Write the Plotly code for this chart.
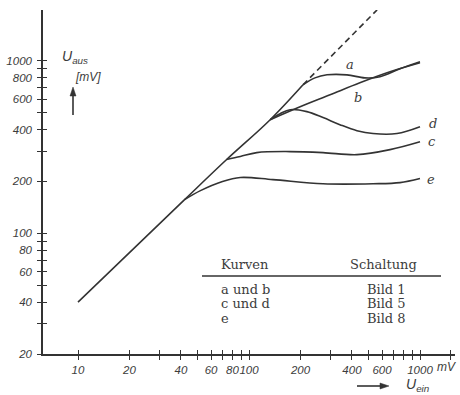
import math
import plotly.graph_objects as go

# ---------------- data ----------------
main_in = [10, 42, 74, 133, 207]
main_out = [40, 157, 268, 456, 727]
ideal_in = [207, 561]
ideal_out = [727, 1974]
a_in = [207, 243, 286, 374, 476, 584, 764, 1000]
a_out = [727, 797, 830, 830, 797, 809, 899, 987]
b_in = [133, 199, 298, 445, 668, 1000]
b_out = [456, 542, 636, 746, 864, 974]
c_in = [74, 89, 111, 174, 271, 428, 668, 1000]
c_out = [268, 279, 294, 298, 294, 286, 306, 340]
d_in = [133, 152, 174, 218, 271, 340, 428, 531, 733, 1000]
d_out = [456, 494, 521, 508, 469, 427, 394, 379, 379, 415]
e_in = [42, 52, 70, 89, 138, 271, 531, 764, 1000]
e_out = [157, 177, 200, 211, 205, 194, 194, 197, 208]

x_major = [10, 20, 40, 60, 80, 100, 200, 400, 600, 1000]
x_minor = [30, 50, 70, 90, 300, 500, 700, 800, 900, 1500]
y_major = [20, 40, 60, 80, 100, 200, 400, 600, 800, 1000]
y_minor = [30, 50, 70, 90, 300, 500, 700, 900]

curve_labels = ["a", "b", "c", "d", "e"]
table_head = ["Kurven", "Schaltung"]
table_rows = [["a und b", "Bild 1"], ["c und d", "Bild 5"], ["e", "Bild 8"]]

# ---------------- styling ----------------
W, H = 460, 395
L, R, T, B = 43, 5, 10, 41
XR = [0.7953, 3.2047]
YR = [math.log10(20), 3.2948]
LINE = "#333333"
TXT = "#3c3c3c"


def px(x):
    return (x - L) / (W - L - R)


def py(y):
    return (H - B - y) / (H - T - B)


fig = go.Figure()


def curve(xs, ys, dash="solid"):
    fig.add_trace(go.Scatter(x=xs, y=ys, mode="lines",
                             line=dict(color=LINE, width=1.6, dash=dash,
                                       shape="spline", smoothing=1.0),
                             hoverinfo="skip", showlegend=False))


curve(main_in, main_out)
curve(ideal_in, ideal_out, dash="6px,4px")
curve(a_in, a_out)
curve(b_in, b_out)
curve(c_in, c_out)
curve(d_in, d_out)
curve(e_in, e_out)

# dummy trace for overlay axes (inward half of the cross ticks)
fig.add_trace(go.Scatter(x=[100], y=[100], xaxis="x2", yaxis="y2",
                         mode="markers", marker=dict(opacity=0),
                         hoverinfo="skip", showlegend=False))

tickfont = dict(family="Liberation Sans", size=11.5, color=TXT,
                style="italic")


def minor(side, vals):
    return dict(tickmode="array", tickvals=vals, ticks=side, ticklen=4,
                tickwidth=1.2, tickcolor=LINE, showgrid=False)


fig.update_layout(
    width=W, height=H,
    margin=dict(l=L, r=R, t=T, b=B),
    paper_bgcolor="white", plot_bgcolor="white",
    xaxis=dict(type="log", range=XR, showgrid=False, zeroline=False,
               showline=True, linecolor=LINE, linewidth=1.5,
               ticks="outside", ticklen=4, tickwidth=1.2, tickcolor=LINE,
               tickmode="array", tickvals=x_major,
               ticktext=[str(v) for v in x_major], tickangle=0,
               tickfont=tickfont, minor=minor("outside", x_minor)),
    yaxis=dict(type="log", range=YR, showgrid=False, zeroline=False,
               showline=True, linecolor=LINE, linewidth=1.5,
               ticks="outside", ticklen=4, tickwidth=1.2, tickcolor=LINE,
               tickmode="array", tickvals=y_major,
               ticktext=[str(v) for v in y_major],
               tickfont=tickfont, ticklabelstandoff=3,
               minor=minor("outside", y_minor)),
    xaxis2=dict(type="log", range=XR, overlaying="x", anchor="y2",
                side="bottom", showgrid=False, zeroline=False,
                showline=False, ticks="inside", ticklen=4, tickwidth=1.2,
                tickcolor=LINE, tickmode="array", tickvals=x_major,
                showticklabels=False, minor=minor("inside", x_minor)),
    yaxis2=dict(type="log", range=YR, overlaying="y", anchor="x2",
                side="left", showgrid=False, zeroline=False,
                showline=False, ticks="inside", ticklen=4, tickwidth=1.2,
                tickcolor=LINE, tickmode="array", tickvals=y_major,
                showticklabels=False, minor=minor("inside", y_minor)),
)

ann = []
lab_font = dict(family="DejaVu Serif", size=13, color=TXT, style="italic")
# curve labels placed beside the curve ends (log10 data coordinates)
for t, xv, yv in zip(curve_labels, [390, 434, 1180, 1192, 1165],
                     [948, 611, 340, 432, 205]):
    ann.append(dict(text=t, x=math.log10(xv), y=math.log10(yv),
                    xref="x", yref="y", showarrow=False, font=lab_font))

sans_it = dict(family="Liberation Sans", size=14, color=TXT, style="italic")
small_it = dict(family="Liberation Sans", size=12, color=TXT, style="italic")
ann.append(dict(text="U<sub>aus</sub>", x=px(60), y=py(57), xref="paper",
                yref="paper", xanchor="left", yanchor="middle",
                showarrow=False, font=sans_it))
ann.append(dict(text="[mV]", x=px(73), y=py(77), xref="paper",
                yref="paper", yanchor="middle", showarrow=False,
                font=small_it))
ann.append(dict(text="mV", x=px(435), y=py(367), xref="paper",
                yref="paper", xanchor="left", yanchor="middle",
                showarrow=False, font=small_it))
ann.append(dict(text="U<sub>ein</sub>", x=px(404), y=py(385), xref="paper",
                yref="paper", xanchor="left", yanchor="middle",
                showarrow=False, font=sans_it))

# table
tab_font = dict(family="DejaVu Serif", size=13, color=TXT)
ann.append(dict(text=table_head[0], x=px(219), y=py(264), xref="paper",
                yref="paper", xanchor="left", yanchor="middle",
                showarrow=False, font=tab_font))
ann.append(dict(text=table_head[1], x=px(383), y=py(264), xref="paper",
                yref="paper", xanchor="center", yanchor="middle",
                showarrow=False, font=tab_font))
for i, (k, s) in enumerate(table_rows):
    yy = [289, 303, 318][i]
    ann.append(dict(text=k, x=px(219), y=py(yy), xref="paper",
                    yref="paper", xanchor="left", yanchor="middle",
                    showarrow=False, font=tab_font))
    ann.append(dict(text=s, x=px(386), y=py(yy), xref="paper",
                    yref="paper", xanchor="center", yanchor="middle",
                    showarrow=False, font=tab_font))

fig.update_layout(annotations=ann)

shapes = [
    dict(type="line", xref="paper", yref="paper",
         x0=px(202), x1=px(441), y0=py(276), y1=py(276),
         line=dict(color=LINE, width=1.5)),
    # upward arrow under U_aus
    dict(type="line", xref="paper", yref="paper",
         x0=px(73), x1=px(73), y0=py(115), y1=py(93),
         line=dict(color=LINE, width=1.6)),
    dict(type="path", xref="paper", yref="paper",
         path=f"M {px(73)},{py(87)} L {px(70)},{py(96)} "
              f"L {px(76)},{py(96)} Z",
         fillcolor=LINE, line=dict(color=LINE, width=0.5)),
    # rightward arrow before U_ein
    dict(type="line", xref="paper", yref="paper",
         x0=px(357), x1=px(382), y0=py(386), y1=py(386),
         line=dict(color=LINE, width=1.6)),
    dict(type="path", xref="paper", yref="paper",
         path=f"M {px(389)},{py(386)} L {px(380)},{py(383)} "
              f"L {px(380)},{py(389)} Z",
         fillcolor=LINE, line=dict(color=LINE, width=0.5)),
]
fig.update_layout(shapes=shapes)

fig.write_html("out.html", config={"displayModeBar": False},
               post_script="document.body.style.margin='0px';")
